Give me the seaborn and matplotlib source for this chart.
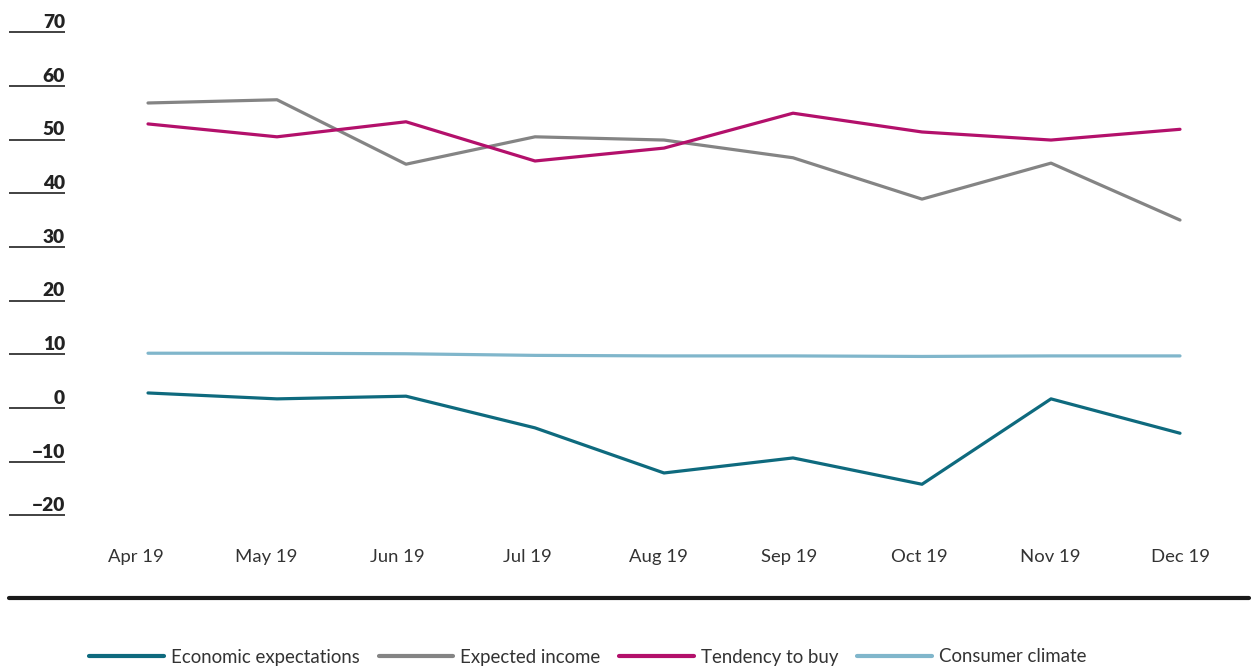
import matplotlib
matplotlib.use('Agg')
import matplotlib.pyplot as plt
import matplotlib.transforms as mtransforms
from matplotlib.lines import Line2D
import pandas as pd
import seaborn as sns

# values
months = ['Apr 19', 'May 19', 'Jun 19', 'Jul 19', 'Aug 19', 'Sep 19', 'Oct 19', 'Nov 19', 'Dec 19']
economic_expectations = [2.8, 1.7, 2.2, -3.7, -12.1, -9.3, -14.2, 1.7, -4.7]
expected_income = [56.8, 57.4, 45.4, 50.5, 49.9, 46.6, 38.9, 45.6, 35.0]
tendency_to_buy = [52.9, 50.5, 53.3, 46.0, 48.4, 54.9, 51.4, 49.9, 51.9]
consumer_climate = [10.2, 10.2, 10.1, 9.8, 9.7, 9.7, 9.6, 9.7, 9.7]
y_ticks = [70, 60, 50, 40, 30, 20, 10, 0, -10, -20]

series = {
    'Economic expectations': economic_expectations,
    'Expected income': expected_income,
    'Tendency to buy': tendency_to_buy,
    'Consumer climate': consumer_climate,
}
colors = ['#0e6a7e', '#848484', '#b3106b', '#80b6cb']

rows = []
for name, vals in series.items():
    for i, v in enumerate(vals):
        rows.append({'idx': i, 'value': v, 'series': name})
df = pd.DataFrame(rows)

sns.set_style('white')
plt.rcParams['font.family'] = ['Lato', 'DejaVu Sans']

fig = plt.figure(figsize=(12.51, 6.66), dpi=100)
ax = fig.add_axes([9 / 1251, 1 - 530 / 666, 1240 / 1251, 510 / 666])

sns.lineplot(data=df, x='idx', y='value', hue='series', palette=colors,
             linewidth=2.3, sort=False, ax=ax, legend=False)

ax.set_xlim((9 - 148) / 129, (1249 - 148) / 129)
ax.set_ylim((408 - 530) / 5.37, (408 - 20) / 5.37)
for s in ax.spines.values():
    s.set_visible(False)
ax.set_xticks([])
ax.set_yticks([])
ax.set_xlabel('')
ax.set_ylabel('')

# month labels sit on a slightly wider spacing than the points
lab = ax.twiny()
lab.set_xlim((9 - 136) / 130.6, (1249 - 136) / 130.6)
lab.xaxis.set_ticks_position('bottom')
lab.set_xticks(range(len(months)))
lab.set_xticklabels(months, fontsize=13.3, color='#333333')
lab.tick_params(axis='x', length=0, pad=14)
lab.set_yticks([])
for s in lab.spines.values():
    s.set_visible(False)

# y labels with a short rule under each
ytrans = ax.get_yaxis_transform()
ax.hlines(y_ticks, 0, 56 / 1240, transform=ytrans, color='#333333', linewidth=1.3)
lift = mtransforms.offset_copy(ytrans, fig=fig, y=3, units='points')
for v in y_ticks:
    label = str(v).replace('-', '\u2212')
    ax.text(56 / 1240, v, label, transform=lift, ha='right', va='baseline',
            fontsize=13.8, fontweight='heavy', color='#222222')

# thick rule above legend
fig.add_artist(Line2D([9 / 1251, 1249 / 1251], [1 - 598 / 666, 1 - 598 / 666],
                      color='#1a1a1a', linewidth=3, transform=fig.transFigure))

handles = [Line2D([], [], color=c, linewidth=3) for c in colors]
fig.legend(handles, list(series.keys()), loc='center', ncol=4,
           bbox_to_anchor=(588 / 1251, 1 - 657 / 666), frameon=False,
           fontsize=13.4, handlelength=4.0, handletextpad=0.4,
           columnspacing=1.0, labelcolor='#333333')

plt.savefig('out.png', dpi=100)
plt.close()
